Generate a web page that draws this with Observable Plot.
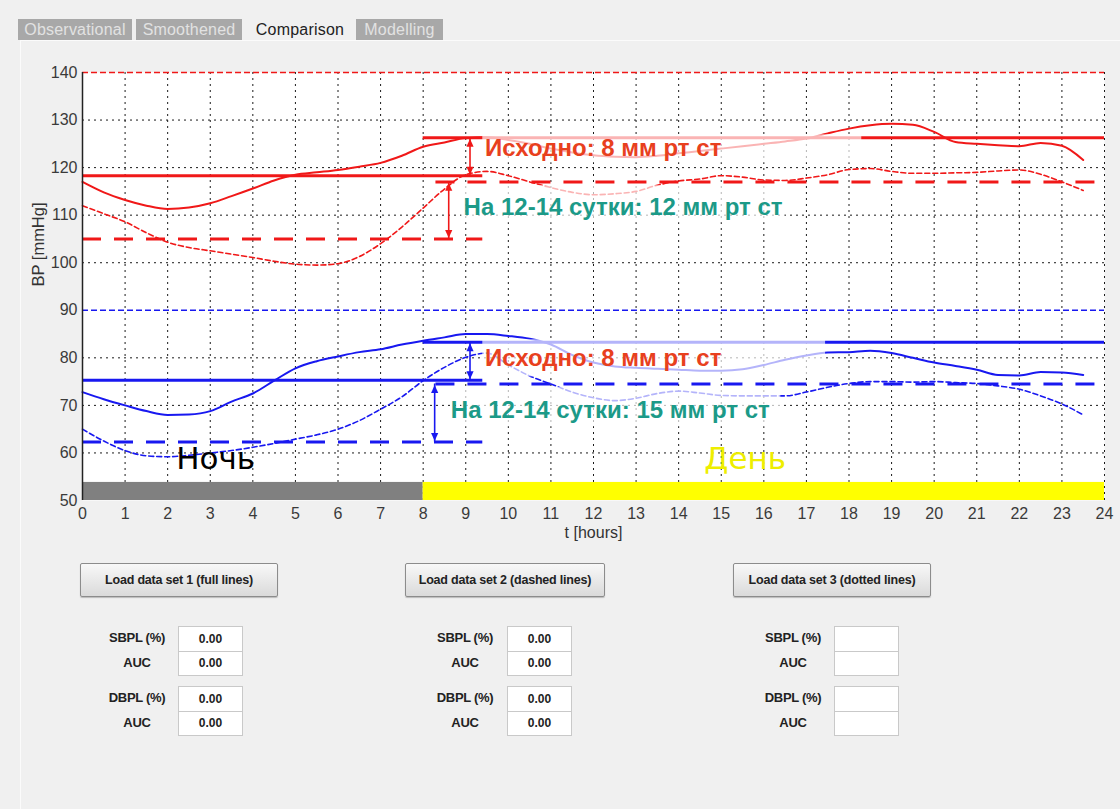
<!DOCTYPE html>
<html>
<head>
<meta charset="utf-8">
<script src="https://cdn.jsdelivr.net/npm/d3@7"></script>
<script src="https://cdn.jsdelivr.net/npm/@observablehq/plot@0.6"></script>
<style>
  body { margin: 0; background: #f0f0f0; font-family: "Liberation Sans", Arial, sans-serif; }
  #page { position: relative; width: 1120px; height: 809px; overflow: hidden; background: #f0f0f0; }
  #panel { position: absolute; left: 20px; top: 40px; right: 0; bottom: 0; border-left: 1px solid #fbfbfb; border-top: 1px solid #fbfbfb; }
  #chart { position: absolute; left: 0; top: 0; }
  .tab { position: absolute; top: 19px; height: 21px; line-height: 21px; font-size: 16px; letter-spacing: 0.2px; text-align: center; }
  .tab.off { background: #a8a8a8; color: #e2e2e2; }
  .tab.on { color: #222; }
  .btn { position: absolute; top: 563px; height: 32px; border: 1px solid #8c8c8c; border-radius: 2px;
         background: linear-gradient(#f8f8f8, #dadada); font: bold 12.5px "Liberation Sans", Arial, sans-serif; line-height: 32px;
         color: #222; text-align: center; box-shadow: 0 1px 1px #bbb; letter-spacing: -0.2px; }
  .lbl { position: absolute; width: 80px; text-align: center; font: bold 13px "Liberation Sans", Arial, sans-serif; color: #222; letter-spacing: -0.3px; }
  .box { position: absolute; width: 63px; background: #fff; border: 1px solid #c9c9c9; font: bold 12px "Liberation Sans", Arial, sans-serif; color: #222; text-align: center; }
</style>
</head>
<body>
<div id="page">
  <div id="panel"></div>
  <div id="chart"></div>
</div>
<script>
// Time of day, hours (half-hour sampling of the smoothed profiles)
const timeGrid = [0,0.5,1,1.5,2,2.5,3,3.5,4,4.5,5,5.5,6,6.5,7,7.5,8,8.5,9,9.5,10,10.5,11,11.5,
                  12,12.5,13,13.5,14,14.5,15,15.5,16,16.5,17,17.5,18,18.5,19,19.5,20,20.5,21,21.5,22,22.5,23,23.5];

// Systolic BP, data set 1 (full line) and data set 2 (dashed line), mmHg
const sysFull = [117,114.8,113.2,112,111.3,111.6,112.5,114,115.6,117.3,118.5,119,119.5,120.2,121,122.5,124.4,125.3,126.2,126.4,
                 125.8,125,124,123.2,122.6,122.3,122.2,122.5,123,123.5,124,124.5,125,125.5,126.1,127.2,128.2,128.9,129.2,129,
                 127.5,125.4,125,124.7,124.5,125.2,124.6,121.6];
const sysDash = [112,110.3,108.6,106.3,104.3,103.2,102.5,101.8,101.1,100.3,99.7,99.5,99.8,101.3,104,107.5,111.5,115.5,118.5,119.2,
                 118.3,117,115.8,114.8,114.3,114.5,115,116.3,117.2,117.6,118.3,118,117.4,117.3,117.8,118.5,119.6,119.8,119.2,118.8,
                 118.8,118.9,119,119.3,119.5,118.6,117,115.2];

// Diastolic BP, data set 1 (full line) and data set 2 (dashed line), mmHg
const diaFull = [72.8,71.3,70,68.8,68,68.1,68.8,70.8,72.5,75.2,77.8,79.3,80.3,81.2,81.8,82.8,83.6,84.3,85,85,
                 84.6,84,82.8,80.6,79,78.2,77.9,77.7,77.5,77.3,77.3,77.6,78.5,79.6,80.5,81.1,81.2,81.5,81,80,
                 79,78.3,77.5,76.4,76.3,77,76.9,76.4];
const diaDash = [65,62.5,60.5,59.4,59.2,59.5,60,60.5,61.2,62,62.9,63.8,65,66.8,69.2,71.8,75.2,78,80.1,81,
                 78.5,76.2,74.5,72.8,71.6,71,71.5,72.5,73,72.6,72.1,72,72,72,72.8,73.8,74.6,75,75,74.9,
                 75,74.8,74.6,74.1,73.4,72,70.3,68];

// Night and day mean levels for each series
const seriesNames = ["sysFull", "sysDash", "diaFull", "diaDash"];
const nightMean   = [118.3, 105, 75.3, 62.3];
const dayMean     = [126.3, 117, 83.3, 74.5];
const nightEnd    = [9.4, 9.4, 9.4, 9.4];
const dayStart    = [8.0, 8.3, 8.0, 8.3];

// Day / night periods
const periodName  = ["night", "day"];
const periodStart = [0, 8];
const periodEnd   = [8, 24];

// Reference levels (upper limits)
const limitValues = [140, 90];

// Axis ticks
const hourTicks = [0,1,2,3,4,5,6,7,8,9,10,11,12,13,14,15,16,17,18,19,20,21,22,23,24];
const bpTicks   = [50,60,70,80,90,100,110,120,130,140];

// Annotated differences between night means
const annotations = [
  {text: "Исходно: 8 мм рт ст",         t: 9.45, bp: 124.0, kind: "base", series: "sys", arrowT: 9.1,  from: 118.3, to: 126.3},
  {text: "На 12-14 сутки: 12 мм рт ст", t: 8.95, bp: 111.6, kind: "late", series: "sys", arrowT: 8.6,  from: 105,   to: 117},
  {text: "Исходно: 8 мм рт ст",         t: 9.45, bp: 80.0,  kind: "base", series: "dia", arrowT: 9.1,  from: 75.3,  to: 83.3},
  {text: "На 12-14 сутки: 15 мм рт ст", t: 8.65, bp: 68.9,  kind: "late", series: "dia", arrowT: 8.27, from: 62.3,  to: 74.5}
];

// Text boxes behind the annotations (semi-transparent white)
const noteBoxes = [
  {t1: 9.4, t2: 18.3,  bp1: 121.0, bp2: 126.9},
  {t1: 8.9, t2: 16.5,  bp1: 108.4, bp2: 116.2},
  {t1: 9.4, t2: 17.45, bp1: 76.0,  bp2: 83.8},
  {t1: 8.9, t2: 16.4,  bp1: 65.5,  bp2: 73.8}
];

// Period labels
const periodLabels = [
  {text: "Ночь", t: 2.2,  bp: 58.8, period: "night"},
  {text: "День", t: 14.6, bp: 58.8, period: "day"}
];

// ---- styles ----
const RED = "#f01818", BLUE = "#1818f0";
const NOTE_RED = "#e8401e", NOTE_TEAL = "#1c9a88";
const FONT = "Liberation Sans, Arial, sans-serif";
const colorOf = name => name.startsWith("sys") ? RED : BLUE;

const curves = {sysFull, sysDash, diaFull, diaDash};
const curveRows = name => timeGrid.map((t, i) => ({t, bp: curves[name][i]}));

const nightRows = seriesNames.map((s, i) => ({s, x1: 0, x2: nightEnd[i], y: nightMean[i]}));
const dayRows = seriesNames.map((s, i) => ({s, x1: dayStart[i], x2: 24, y: dayMean[i]}));
const levelRows = nightRows.concat(dayRows);
const periods = periodName.map((p, i) => ({p, x1: periodStart[i], x2: periodEnd[i]}));

const triUp = {draw(ctx, size) { const s = Math.sqrt(size) / 2; ctx.moveTo(0, -s); ctx.lineTo(s * 0.9, s); ctx.lineTo(-s * 0.9, s); ctx.closePath(); }};
const triDown = {draw(ctx, size) { const s = Math.sqrt(size) / 2; ctx.moveTo(0, s); ctx.lineTo(s * 0.9, -s); ctx.lineTo(-s * 0.9, -s); ctx.closePath(); }};
const arrowColor = a => a.series === "sys" ? RED : BLUE;

const gridBp = bpTicks.filter(v => v > 50 && !limitValues.includes(v));

const chart = Plot.plot({
  width: 1120,
  height: 550,
  marginLeft: 82,
  marginRight: 16,
  marginTop: 72,
  marginBottom: 50,
  style: {background: "transparent", overflow: "visible", fontFamily: FONT},
  x: {domain: [0, 24]},
  y: {domain: [50, 140]},
  marks: [
    Plot.frame({fill: "white", stroke: "none"}),
    // dotted grid
    Plot.ruleX(hourTicks.filter(h => h > 0), {y1: 50, y2: 140, stroke: "#1a1a1a", strokeWidth: 1, strokeDasharray: "2,4"}),
    Plot.ruleY(gridBp, {x1: 0, x2: 24, stroke: "#1a1a1a", strokeWidth: 1, strokeDasharray: "2,4"}),
    // upper limits
    Plot.ruleY(limitValues, {x1: 0, x2: 24, stroke: (d) => d === 140 ? RED : BLUE, strokeWidth: 1.6, strokeDasharray: "6,3"}),
    // smoothed profiles
    Plot.line(curveRows("sysFull"), {x: "t", y: "bp", stroke: RED, strokeWidth: 2, curve: "monotone-x"}),
    Plot.line(curveRows("sysDash"), {x: "t", y: "bp", stroke: RED, strokeWidth: 1.6, strokeDasharray: "5,3", curve: "monotone-x"}),
    Plot.line(curveRows("diaFull"), {x: "t", y: "bp", stroke: BLUE, strokeWidth: 2, curve: "monotone-x"}),
    Plot.line(curveRows("diaDash"), {x: "t", y: "bp", stroke: BLUE, strokeWidth: 1.6, strokeDasharray: "5,3", curve: "monotone-x"}),
    // night / day mean levels
    Plot.ruleY(levelRows.filter(d => d.s.endsWith("Full")), {x1: "x1", x2: "x2", y: "y", stroke: d => colorOf(d.s), strokeWidth: 3}),
    Plot.ruleY(levelRows.filter(d => d.s.endsWith("Dash")), {x1: "x1", x2: "x2", y: "y", stroke: d => colorOf(d.s), strokeWidth: 3, strokeDasharray: "19,13"}),
    // annotation backgrounds
    Plot.rect(noteBoxes, {x1: "t1", x2: "t2", y1: "bp1", y2: "bp2", fill: "white", fillOpacity: 0.68}),
    // difference arrows
    Plot.ruleX(annotations, {x: "arrowT", y1: "from", y2: "to", stroke: arrowColor, strokeWidth: 1.6}),
    Plot.dot(annotations, {x: "arrowT", y: "to", symbol: triUp, r: 4.5, dy: 5, fill: arrowColor, stroke: "none"}),
    Plot.dot(annotations, {x: "arrowT", y: "from", symbol: triDown, r: 4.5, dy: -5, fill: arrowColor, stroke: "none"}),
    // night / day bar
    Plot.rect(periods, {x1: "x1", x2: "x2", y1: 50, y2: 53.8, fill: d => d.p === "night" ? "#808080" : "#ffff00"}),
    // left axis line
    Plot.ruleX([0], {y1: 50, y2: 140, stroke: "#222", strokeWidth: 1.5}),
    // axes
    Plot.axisX(hourTicks, {tickSize: 0, tickPadding: 7, fontSize: 16, fill: "#3a3a3a", label: null}),
    Plot.axisY(bpTicks, {tickSize: 0, tickPadding: 5, fontSize: 16, fill: "#3a3a3a", label: null}),
    Plot.text(["t [hours]"], {frameAnchor: "bottom", dy: 37, fontSize: 16, fill: "#333"}),
    Plot.text(["BP [mmHg]"], {frameAnchor: "left", dx: -44, rotate: -90, fontSize: 16.5, fill: "#333"}),
    // annotation texts
    Plot.text(annotations, {x: "t", y: "bp", text: "text", textAnchor: "start", fontSize: 24, fontWeight: "bold",
      fill: d => d.kind === "base" ? NOTE_RED : NOTE_TEAL}),
    Plot.text(periodLabels, {x: "t", y: "bp", text: "text", textAnchor: "start", fontSize: 31,
      fontFamily: "DejaVu Sans, sans-serif", fill: d => d.period === "night" ? "#000" : "#eeee00"})
  ]
});
document.getElementById("chart").appendChild(chart);

// ---- GUI around the axes ----
const page = document.getElementById("page");
const tabNames = ["Observational", "Smoothened", "Comparison", "Modelling"];
const tabLeft = [18, 136, 250, 356], tabWidth = [114, 106, 100, 87];
tabNames.forEach((name, i) => {
  const el = document.createElement("div");
  el.className = "tab " + (name === "Comparison" ? "on" : "off");
  el.style.left = tabLeft[i] + "px";
  el.style.width = tabWidth[i] + "px";
  el.textContent = name;
  page.appendChild(el);
});

const buttonLabels = ["Load data set 1 (full lines)", "Load data set 2 (dashed lines)", "Load data set 3 (dotted lines)"];
const buttonLeft = [80, 405, 733], buttonWidth = [196, 198, 196];
const fieldNames = ["SBPL (%)", "AUC", "DBPL (%)", "AUC"];
const fieldValues = [["0.00", "0.00", "0.00", "0.00"], ["0.00", "0.00", "0.00", "0.00"], ["", "", "", ""]];
const labelCenter = [137, 465, 793], boxLeft = [178, 507, 834];
const rowTop = [626, 651, 686, 711], rowHeight = [24, 23, 24, 23];

buttonLabels.forEach((label, i) => {
  const b = document.createElement("div");
  b.className = "btn";
  b.style.left = buttonLeft[i] + "px";
  b.style.width = buttonWidth[i] + "px";
  b.textContent = label;
  page.appendChild(b);
  fieldNames.forEach((f, j) => {
    const l = document.createElement("div");
    l.className = "lbl";
    l.style.left = (labelCenter[i] - 40) + "px";
    l.style.top = rowTop[j] + "px";
    l.style.height = rowHeight[j] + "px";
    l.style.lineHeight = rowHeight[j] + "px";
    l.textContent = f;
    page.appendChild(l);
    const v = document.createElement("div");
    v.className = "box";
    v.style.left = boxLeft[i] + "px";
    v.style.top = rowTop[j] + "px";
    v.style.height = rowHeight[j] + "px";
    v.style.lineHeight = rowHeight[j] + "px";
    v.textContent = fieldValues[i][j];
    page.appendChild(v);
  });
});
</script>
</body>
</html>
